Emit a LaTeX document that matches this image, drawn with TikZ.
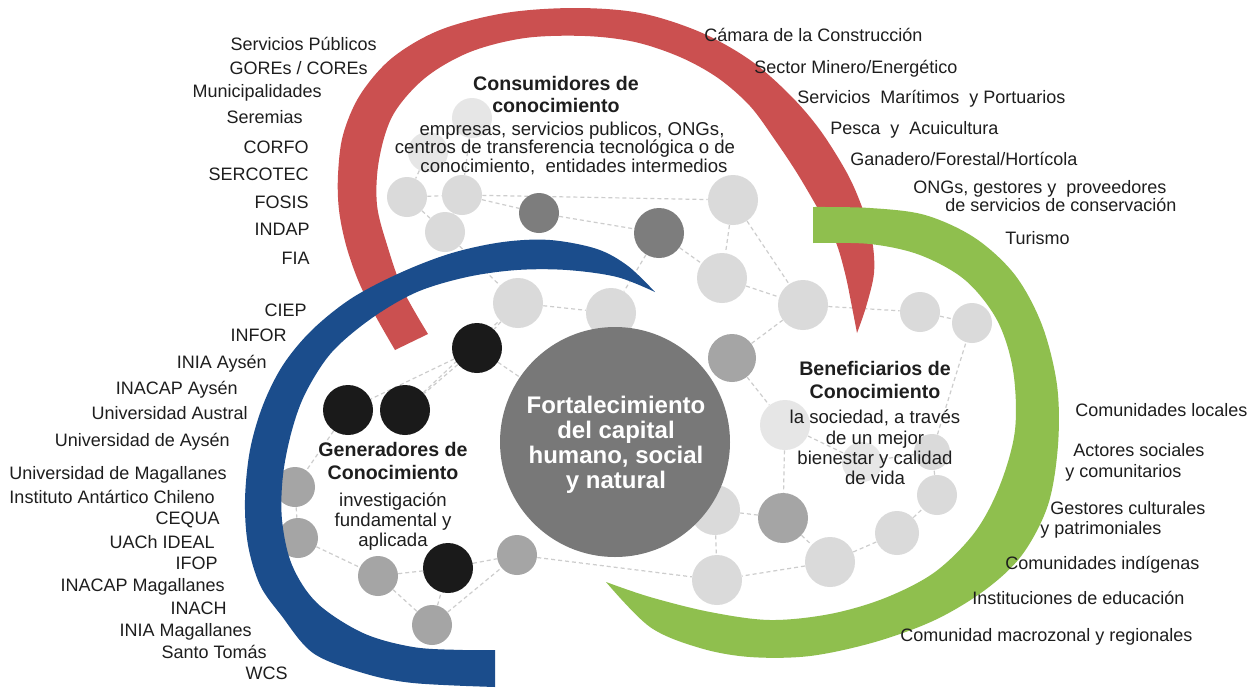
\documentclass[tikz,border=0pt]{standalone}
\usepackage{fontspec}
\setmainfont{Liberation Sans}
\usetikzlibrary{backgrounds}
\definecolor{redarc}{RGB}{203,80,80}
\definecolor{bluearc}{RGB}{27,77,140}
\definecolor{greenarc}{RGB}{143,191,78}
\definecolor{bigc}{RGB}{120,120,120}
\definecolor{lightc}{RGB}{218,218,218}
\definecolor{faintc}{RGB}{230,230,230}
\definecolor{midc}{RGB}{165,165,165}
\definecolor{darkc}{RGB}{125,125,125}
\definecolor{blackc}{RGB}{26,26,26}
\definecolor{edgec}{RGB}{205,205,205}
\definecolor{txt}{RGB}{30,30,30}
\tikzset{
  ball/.style={circle,inner sep=0pt,draw=none,minimum size=#1pt},
  lightball/.style={ball=#1,fill=lightc},
  faintball/.style={ball=#1,fill=faintc},
  midball/.style={ball=#1,fill=midc},
  darkball/.style={ball=#1,fill=darkc},
  blackball/.style={ball=#1,fill=blackc},
  link/.style={draw=edgec,line width=0.6pt,dash pattern=on 2pt off 1.5pt},
  lab/.style={font=\fontsize{9}{11}\selectfont,text=txt,inner sep=0pt},
  head/.style={font=\fontsize{9.8}{11}\selectfont\bfseries,text=txt,inner sep=0pt,anchor=base},
  body/.style={font=\fontsize{9.3}{11}\selectfont,text=txt,inner sep=0pt,anchor=base},
  core/.style={font=\fontsize{12}{14}\selectfont\bfseries,text=white,inner sep=0pt,anchor=base},
}
\begin{document}
\begin{tikzpicture}[x=0.5pt,y=-0.5pt]
\useasboundingbox (0,0) rectangle (1254,687);

% ---- network circles
\node[lightball=20] (L1) at (407,197) {};
\node[lightball=20] (L2) at (462,195) {};
\node[lightball=20] (L3) at (445,232) {};
\node[faintball=20] (L0) at (472,118) {};
\node[faintball=20] (LA) at (428,152) {};
\node[lightball=25] (L4) at (733,200) {};
\node[lightball=25] (L5) at (722,278) {};
\node[lightball=25] (L6) at (803,305) {};
\node[lightball=25] (L7) at (518,303) {};
\node[lightball=25] (L8) at (611,313) {};
\node[lightball=20] (L9) at (920,312) {};
\node[lightball=20] (L10) at (972,323) {};
\node[faintball=25] (L11) at (785,425) {};
\node[faintball=20] (L12) at (862,462) {};
\node[lightball=18] (L13) at (932,452) {};
\node[lightball=20] (L14) at (937,495) {};
\node[lightball=25] (L15) at (715,510) {};
\node[lightball=22] (L16) at (897,533) {};
\node[lightball=25] (L17) at (830,562) {};
\node[lightball=25] (L18) at (717,580) {};
\node[darkball=20] (D1) at (539,213) {};
\node[darkball=25] (D2) at (659,233) {};
\node[midball=24] (M1) at (732,358) {};
\node[midball=25] (M2) at (783,518) {};
\node[midball=20] (G1) at (295,487) {};
\node[midball=20] (G2) at (298,538) {};
\node[midball=20] (G3) at (378,576) {};
\node[midball=20] (G4) at (432,625) {};
\node[midball=20] (G5) at (517,555) {};
\node[blackball=25] (B1) at (477,348) {};
\node[blackball=25] (B2) at (348,410) {};
\node[blackball=25] (B3) at (405,410) {};
\node[blackball=25] (B4) at (448,568) {};
\node[ball=115,fill=bigc] (C) at (615,442) {};

% ---- dashed links, under the circles
\begin{scope}[on background layer]
\fill[white] (0,0) rectangle (1254,687);
\foreach \a/\b in {L1/L2,L1/L3,L2/L3,L2/D1,L2/L4,D1/D2,D2/L5,D2/L8,L4/L5,L4/L6,L5/L6,L3/L7,L7/L8,L7/B1,B1/B3,B1/B2,B1/C,L6/L9,L9/L10,M1/L6,M1/L11,L11/M2,M2/L17,L17/L18,L17/L16,L16/L14,L14/L13,L13/L10,M2/L15,L15/L18,B2/G1,G1/G2,G2/G3,G3/G4,G4/B4,G4/G5,B4/G5,G5/L18,G3/B4,B3/L7,L0/L2,LA/L1,L11/L12,L12/L13}
  \draw[link] (\a) -- (\b);
\end{scope}

% ---- red arc
\fill[redarc] plot[smooth,tension=0.55] coordinates {(395,350) (375,315) (358,280) (346,245) (339,210) (338,175) (343,135) (360,95) (392,58) (440,30) (505,13) (575,8) (640,13) (700,32) (750,60) (790,95) (820,130) (847,173) (862,207) (872,240) (874,273) (866,307) (857,333)}
 -- plot[smooth,tension=0.55] coordinates {(857,333) (852,307) (845,273) (835,240) (817,207) (797,173) (775,140) (750,106) (718,78) (680,57) (635,42) (585,36) (525,38) (470,52) (425,78) (393,115) (379,160) (377,205) (388,248) (403,290) (428,334)} -- cycle;

% ---- blue arc
\fill[bluearc] plot[smooth,tension=0.55] coordinates {(655,292) (628,266) (597,249) (550,240) (503,242) (452,253) (402,272) (352,298) (312,330) (283,365) (263,405) (250,450) (245,500) (248,545) (260,585) (281,615) (313,653) (363,673) (413,683) (495,687)}
 -- plot[smooth,tension=0.55] coordinates {(495,650) (463,650) (413,647) (363,633) (317,603) (292,565) (282,520) (283,475) (292,430) (306,392) (332,352) (372,318) (417,292) (467,277) (517,270) (567,270) (617,277) (655,292)} -- cycle;

% ---- green arc
\fill[greenarc] plot[smooth,tension=0.55] coordinates {(813,207) (870,208) (925,215) (975,238) (1015,275) (1042,325) (1057,385) (1058,445) (1048,505) (1022,555) (985,590) (935,620) (875,642) (810,656) (750,657) (700,648) (650,627) (606,582)}
 -- plot[smooth,tension=0.55] coordinates {(606,582) (650,597) (710,612) (770,620) (830,614) (885,598) (935,572) (975,532) (1000,485) (1015,430) (1013,370) (997,320) (965,280) (920,255) (870,244) (813,243)} -- cycle;

% ---- center text
\node[core] (c1) at (616,413) {Fortalecimiento};
\node[core] (c2) at (616,438) {del capital};
\node[core] (c3) at (616,463) {humano, social};
\node[core] (c4) at (616,488) {y natural};

% ---- block texts
\node[head] (k1) at (556,90) {Consumidores de};
\node[head] (k2) at (556,112) {conocimiento};
\node[body] (k3) at (572,135) {empresas, servicios publicos, ONGs,};
\node[body] (k4) at (565,153) {centros de transferencia tecnológica o de};
\node[body] (k5) at (574,172) {conocimiento,\ \ entidades intermedios};

\node[head] (g1) at (393,456) {Generadores de};
\node[head] (g2) at (393,479) {Conocimiento};
\node[body] (g3) at (393,506) {investigación};
\node[body] (g4) at (393,526) {fundamental y};
\node[body] (g5) at (393,546) {aplicada};

\node[head] (b1) at (875,375) {Beneficiarios de};
\node[head] (b2) at (875,398) {Conocimiento};
\node[body] (b3) at (875,423) {la sociedad, a través};
\node[body] (b4) at (875,444) {de un mejor};
\node[body] (b5) at (875,464) {bienestar y calidad};
\node[body] (b6) at (875,484) {de vida};

% ---- left lists
\foreach \n/\x/\y/\t in {
 a1/377/44/{Servicios Públicos}, a2/368/68/{GOREs / COREs}, a3/322/91/{Municipalidades},
 a4/303/117/{Seremias}, a5/309/147/{CORFO}, a6/309/174/{SERCOTEC}, a7/309/202/{FOSIS},
 a8/310/229/{INDAP}, a9/310/258/{FIA}, a10/307/310/{CIEP}, a11/287/335/{INFOR},
 a12/267/362/{INIA Aysén}, a13/238/388/{INACAP Aysén}, a14/248/413/{Universidad Austral},
 a15/230/440/{Universidad de Aysén}, a16/227/473/{Universidad de Magallanes},
 a17/215/497/{Instituto Antártico Chileno}, a18/220/518/{CEQUA}, a19/215/542/{UACh IDEAL},
 a20/218/563/{IFOP}, a21/225/585/{INACAP Magallanes}, a22/227/608/{INACH},
 a23/252/630/{INIA Magallanes}, a24/267/652/{Santo Tomás}, a25/288/673/{WCS}}
  \node[lab,anchor=base east] (\n) at (\x,\y+6) {\t};

% ---- right lists
\foreach \n/\x/\y/\t in {
 r1/704/35/{Cámara de la Construcción}, r2/754/67/{Sector Minero/Energético},
 r3/797/97/{Servicios\ \ Marítimos\ \ y Portuarios}, r4/830/128/{Pesca\ \ y\ \ Acuicultura},
 r5/850/159/{Ganadero/Forestal/Hortícola}, r6/913/187/{ONGs, gestores y\ \ proveedores},
 r7/945/205/{de servicios de conservación}, r8/1005/238/{Turismo},
 s1/1075/410/{Comunidades locales}, s2/1073/450/{Actores sociales}, s3/1065/471/{y comunitarios},
 s4/1050/508/{Gestores culturales}, s5/1040/528/{y patrimoniales},
 s6/1005/563/{Comunidades indígenas}, s7/972/598/{Instituciones de educación},
 s8/900/635/{Comunidad macrozonal y regionales}}
  \node[lab,anchor=base west] (\n) at (\x,\y+6) {\t};
\end{tikzpicture}
\end{document}
